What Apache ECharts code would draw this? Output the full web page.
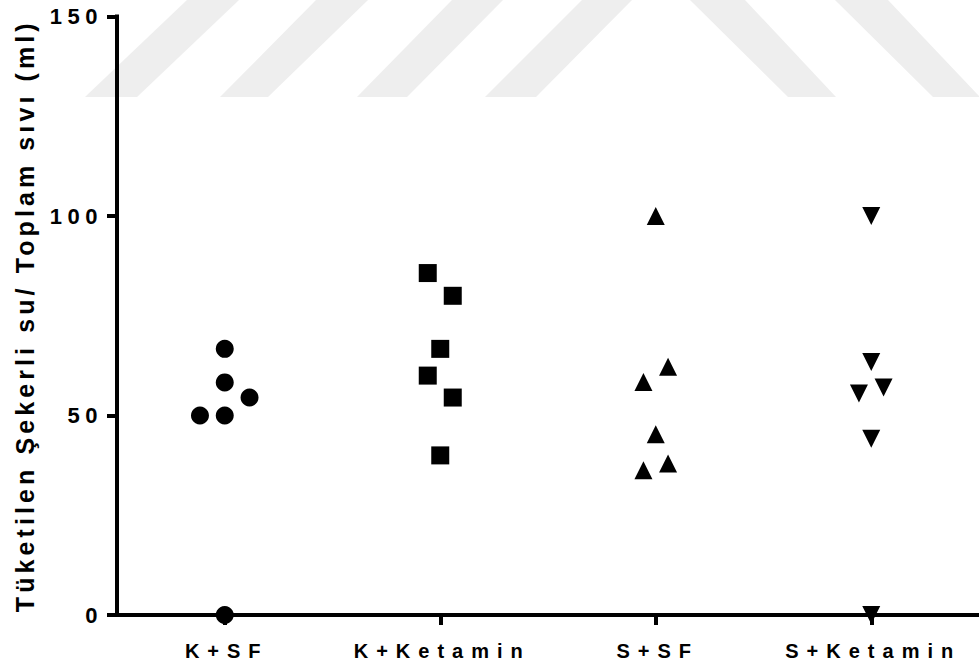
<!DOCTYPE html>
<html>
<head>
<meta charset="utf-8">
<script src="https://cdn.jsdelivr.net/npm/echarts@6/dist/echarts.min.js"></script>
<style>
  html, body { margin: 0; padding: 0; background: #ffffff; }
  #chart { width: 979px; height: 664px; }
</style>
</head>
<body>
<div id="chart"></div>
<script>
// Groups on the x axis
const categories = ['K+SF', 'K+Ketamin', 'S+SF', 'S+Ketamin'];

// Consumed sweetened water / total fluid (ml), one value per animal
const kSF       = [66.7, 58.3, 54.5, 50, 50, 0];
const kKetamin  = [85.7, 80, 66.7, 60, 54.5, 40];
const sSF       = [100, 62.2, 58.4, 45.3, 38, 36.3];
const sKetamin  = [100, 63.4, 57, 55.5, 44.2, 0];

// Horizontal spread of overlapping points, in category widths
const kSFSpread      = [0, 0, 0.115, -0.115, 0, 0];
const kKetaminSpread = [-0.058, 0.058, 0, -0.058, 0.058, 0];
const sSFSpread      = [0, 0.057, -0.057, 0, 0.057, -0.057];
const sKetaminSpread = [0, 0, 0.057, -0.057, 0, 0];

// Y axis ticks
const yTicks = [0, 50, 100, 150];

const yTitle = 'Tüketilen Şekerli su/ Toplam sıvı (ml)';

const groups = [
  { values: kSF,      spread: kSFSpread,      symbol: 'circle',   rotate: 0 },
  { values: kKetamin, spread: kKetaminSpread, symbol: 'rect',     rotate: 0 },
  { values: sSF,      spread: sSFSpread,      symbol: 'triangle', rotate: 0 },
  { values: sKetamin, spread: sKetaminSpread, symbol: 'triangle', rotate: 180 }
];

const FONT = 'Liberation Sans, Arial, sans-serif';

// light diagonal bands across the top of the page
const bands = [
  [[85, 97], [137, 97], [239, 0], [187, 0]],
  [[220, 97], [268, 97], [368, 0], [316, 0]],
  [[357, 97], [407, 97], [503, 0], [452, 0]],
  [[485, 97], [536, 97], [632, 0], [582, 0]],
  [[690, 0], [745, 0], [836, 97], [788, 97]],
  [[835, 0], [888, 0], [980, 97], [933, 97]]
];

const chart = echarts.init(document.getElementById('chart'), null, { renderer: 'svg' });

chart.setOption({
  backgroundColor: '#ffffff',
  animation: false,
  graphic: bands.map(pts => ({
    type: 'polygon',
    silent: true,
    z: -10,
    shape: { points: pts },
    style: { fill: '#eeeeee' }
  })),
  grid: { left: 117, right: -6, top: 16.5, bottom: 49 },
  xAxis: [
    {
      type: 'category',
      data: categories,
      boundaryGap: true,
      axisLine: { show: true, onZero: false, lineStyle: { color: '#000', width: 4, cap: 'square' } },
      axisTick: { show: true, alignWithLabel: true, length: 10, lineStyle: { color: '#000', width: 4 } },
      axisLabel: {
        interval: 0,
        margin: 26,
        color: '#000',
        fontSize: 20,
        fontWeight: 'bold',
        fontFamily: FONT,
        padding: [0, 0, 0, 4]
      },
      splitLine: { show: false }
    },
    {
      type: 'value',
      min: -0.5,
      max: 3.5,
      show: false
    }
  ],
  yAxis: {
    type: 'value',
    min: yTicks[0],
    max: yTicks[yTicks.length - 1],
    interval: yTicks[1] - yTicks[0],
    name: yTitle,
    nameLocation: 'middle',
    nameGap: 80,
    nameTextStyle: {
      color: '#000',
      fontSize: 25,
      fontWeight: 'bold',
      fontFamily: FONT
    },
    axisLine: { show: true, onZero: false, lineStyle: { color: '#000', width: 4, cap: 'square' } },
    axisTick: { show: true, length: 10, lineStyle: { color: '#000', width: 4 } },
    axisLabel: {
      margin: 14,
      color: '#000',
      fontSize: 22,
      fontWeight: 'bold',
      fontFamily: FONT
    },
    splitLine: { show: false }
  },
  series: groups.map((g, gi) => ({
    type: 'scatter',
    xAxisIndex: 1,
    symbol: g.symbol,
    symbolRotate: g.rotate,
    symbolSize: 18,
    itemStyle: { color: '#000', opacity: 1 },
    emphasis: { disabled: true },
    data: g.values.map((v, i) => [gi + g.spread[i], v])
  }))
});

// wide tracking on the bold axis texts
function applyTracking() {
  const tickText = yTicks.map(String);
  document.querySelectorAll('#chart text').forEach(el => {
    const t = el.textContent.trim();
    if (categories.includes(t)) el.style.letterSpacing = '8px';
    else if (tickText.includes(t)) el.style.letterSpacing = '5.5px';
    else if (t === yTitle) el.style.letterSpacing = '4.1px';
  });
}
chart.on('finished', applyTracking);
applyTracking();
</script>
</body>
</html>
